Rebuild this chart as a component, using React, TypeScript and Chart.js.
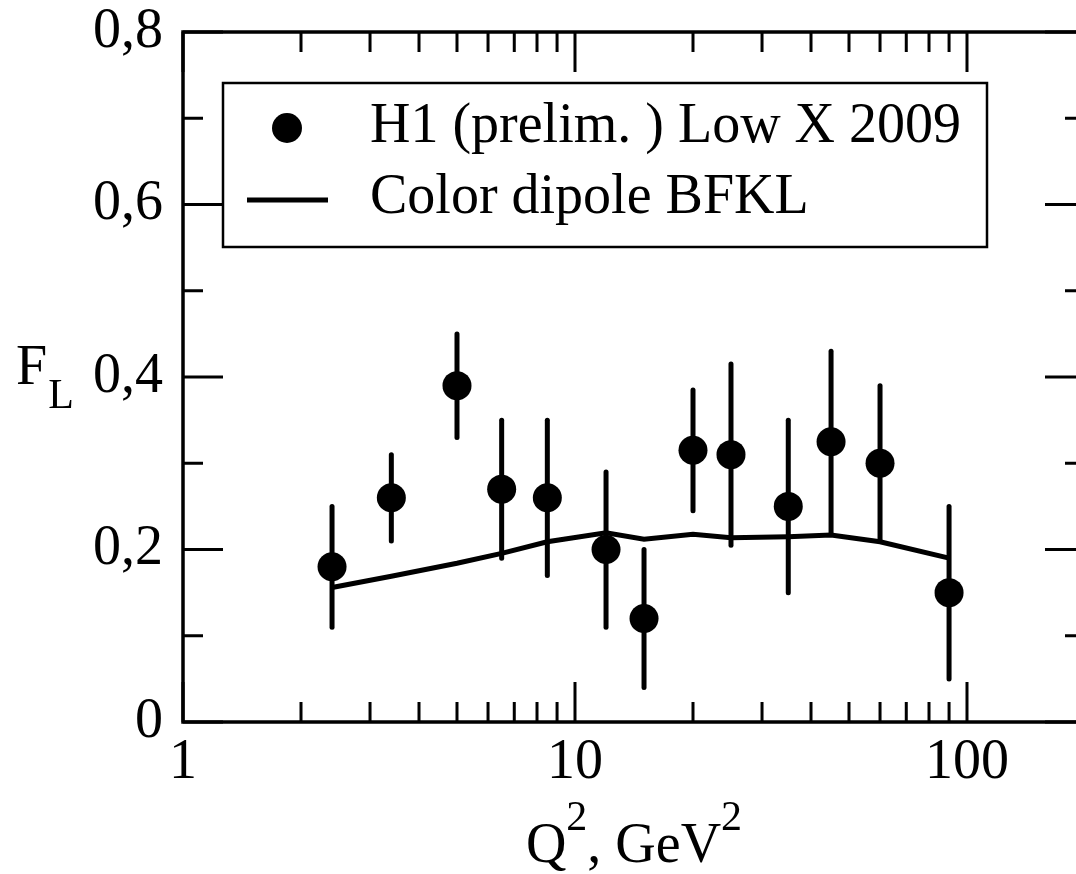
import React, { useEffect, useRef } from 'react';
import { Chart, registerables } from 'chart.js';

Chart.register(...registerables);

// ---- data ----
const q2Values = [2.4, 3.4, 5, 6.5, 8.5, 12, 15, 20, 25, 35, 45, 60, 90];
const flValues = [0.18, 0.26, 0.39, 0.27, 0.26, 0.2, 0.12, 0.315, 0.31, 0.25, 0.325, 0.3, 0.15];
const flLow = [0.11, 0.21, 0.33, 0.19, 0.17, 0.11, 0.04, 0.245, 0.205, 0.15, 0.22, 0.21, 0.05];
const flHigh = [0.25, 0.31, 0.45, 0.35, 0.35, 0.29, 0.2, 0.385, 0.415, 0.35, 0.43, 0.39, 0.25];
const bfklQ2 = [2.4, 3.4, 5, 6.5, 8.5, 12, 15, 20, 25, 35, 45, 60, 90];
const bfklValues = [0.156, 0.169, 0.184, 0.1955, 0.209, 0.2195, 0.212, 0.2176, 0.2137, 0.2149, 0.2168, 0.209, 0.19];
const xTickValues = [1, 2, 3, 4, 5, 6, 7, 8, 9, 10, 20, 30, 40, 50, 60, 70, 80, 90, 100, 200];
const xMajorTicks = [1, 10, 100];
const legendLabels = ['H1 (prelim. ) Low X 2009', 'Color dipole BFKL'];

const FONT = "'Liberation Serif', 'Times New Roman', Times, serif";
const FS = 56;
const FS_SMALL = 42;

const decorPlugin = {
  id: 'decor',
  afterDatasetsDraw(chart: any) {
    const ctx = chart.ctx;
    const xs = chart.scales.x;
    const ys = chart.scales.y;
    ctx.save();
    ctx.strokeStyle = '#000';
    ctx.lineWidth = 5;
    ctx.lineCap = 'round';
    for (let i = 0; i < q2Values.length; i++) {
      const px = xs.getPixelForValue(q2Values[i]);
      ctx.beginPath();
      ctx.moveTo(px, ys.getPixelForValue(flLow[i]));
      ctx.lineTo(px, ys.getPixelForValue(flHigh[i]));
      ctx.stroke();
    }
    ctx.restore();
  },
  afterDraw(chart: any) {
    const ctx = chart.ctx;
    const xs = chart.scales.x;
    const ys = chart.scales.y;
    const { left, right, top, bottom } = chart.chartArea;
    ctx.save();
    ctx.strokeStyle = '#000';
    ctx.fillStyle = '#000';
    ctx.lineCap = 'butt';

    // y ticks (inward, both sides)
    ctx.lineWidth = 3;
    ys.ticks.forEach((t: any) => {
      const py = ys.getPixelForValue(t.value);
      const major = Math.round(t.value * 10) % 2 === 0;
      const len = major ? 40 : 20;
      ctx.beginPath();
      ctx.moveTo(left, py);
      ctx.lineTo(left + len, py);
      ctx.moveTo(right, py);
      ctx.lineTo(right - len, py);
      ctx.stroke();
    });
    // x ticks (inward, both sides)
    xs.ticks.forEach((t: any) => {
      const px = xs.getPixelForValue(t.value);
      const major = xMajorTicks.includes(t.value);
      const len = major ? 40 : 20;
      ctx.beginPath();
      ctx.moveTo(px, bottom);
      ctx.lineTo(px, bottom - len);
      ctx.moveTo(px, top);
      ctx.lineTo(px, top + len);
      ctx.stroke();
    });

    // frame
    ctx.lineWidth = 3.5;
    ctx.strokeRect(left, top, right - left, bottom - top);

    // legend box
    ctx.lineWidth = 2.5;
    ctx.fillStyle = '#fff';
    ctx.fillRect(223, 83, 764, 164);
    ctx.strokeRect(223, 83, 764, 164);
    ctx.fillStyle = '#000';
    ctx.beginPath();
    ctx.arc(287, 128, 15, 0, Math.PI * 2);
    ctx.fill();
    ctx.lineWidth = 5;
    ctx.beginPath();
    ctx.moveTo(247, 200);
    ctx.lineTo(328, 200);
    ctx.stroke();
    ctx.font = `${FS}px ${FONT}`;
    ctx.textAlign = 'left';
    ctx.textBaseline = 'alphabetic';
    ctx.fillText(legendLabels[0], 370, 142);
    ctx.fillText(legendLabels[1], 370, 213);

    // x title: Q^2, GeV^2
    const big = `${FS}px ${FONT}`;
    const small = `${FS_SMALL}px ${FONT}`;
    const parts: [string, boolean][] = [['Q', false], ['2', true], [', GeV', false], ['2', true]];
    let total = 0;
    parts.forEach(([s, sup]) => {
      ctx.font = sup ? small : big;
      total += ctx.measureText(s).width;
    });
    let cx = (left + right) / 2 - total / 2;
    const base = 862;
    parts.forEach(([s, sup]) => {
      ctx.font = sup ? small : big;
      ctx.fillText(s, cx, sup ? base - 32 : base);
      cx += ctx.measureText(s).width;
    });

    // y title: F_L
    ctx.font = big;
    ctx.fillText('F', 16, 384);
    const fw = ctx.measureText('F').width;
    ctx.font = `${FS_SMALL}px ${FONT}`;
    ctx.fillText('L', 16 + fw + 1, 408);

    ctx.restore();
  },
};

export default function App() {
  const ref = useRef<HTMLCanvasElement>(null);
  useEffect(() => {
    if (!ref.current) return;
    const chart = new Chart(ref.current, {
      type: 'scatter',
      data: {
        datasets: [
          {
            label: legendLabels[1],
            data: bfklQ2.map((x, i) => ({ x, y: bfklValues[i] })),
            showLine: true,
            borderColor: '#000',
            borderWidth: 5,
            pointRadius: 0,
            fill: false,
            tension: 0,
          },
          {
            label: legendLabels[0],
            data: q2Values.map((x, i) => ({ x, y: flValues[i] })),
            showLine: false,
            backgroundColor: '#000',
            borderColor: '#000',
            borderWidth: 0,
            pointRadius: 14.5,
          },
        ],
      },
      options: {
        animation: false,
        responsive: false,
        devicePixelRatio: 1,
        layout: { padding: { top: 32, right: 15, left: 0, bottom: 0 } },
        plugins: { legend: { display: false }, tooltip: { enabled: false } },
        scales: {
          x: {
            type: 'logarithmic',
            min: 1,
            max: 200,
            position: 'bottom',
            grid: { display: false, drawTicks: false },
            border: { display: false },
            afterBuildTicks: (s: any) => {
              s.ticks = xTickValues.map((v) => ({ value: v }));
            },
            afterFit: (s: any) => {
              s.height = 152;
              s.paddingLeft = 0;
              s.paddingRight = 0;
            },
            ticks: {
              autoSkip: false,
              maxRotation: 0,
              padding: 8,
              color: '#000',
              font: { family: FONT, size: FS },
              callback: (v: any) => (xMajorTicks.includes(Number(v)) ? String(v) : ''),
            },
          },
          y: {
            type: 'linear',
            min: 0,
            max: 0.8,
            grid: { display: false, drawTicks: false },
            border: { display: false },
            afterFit: (s: any) => {
              s.width = 183;
              s.paddingTop = 0;
              s.paddingBottom = 0;
            },
            ticks: {
              stepSize: 0.1,
              padding: 20,
              color: '#000',
              font: { family: FONT, size: FS },
              callback: (v: any) => {
                const n = Math.round(Number(v) * 10);
                if (n % 2 !== 0) return '';
                if (n === 0) return '0';
                return (n / 10).toFixed(1).replace('.', ',');
              },
            },
          },
        },
      },
      plugins: [decorPlugin],
    });
    return () => chart.destroy();
  }, []);
  return (
    <div
      style={{
        position: 'fixed',
        left: 0,
        top: 0,
        width: 1076,
        height: 874,
        overflow: 'hidden',
        background: '#fff',
      }}
    >
      <canvas ref={ref} width={1100} height={874} style={{ display: 'block', width: 1100, height: 874 }} />
    </div>
  );
}
